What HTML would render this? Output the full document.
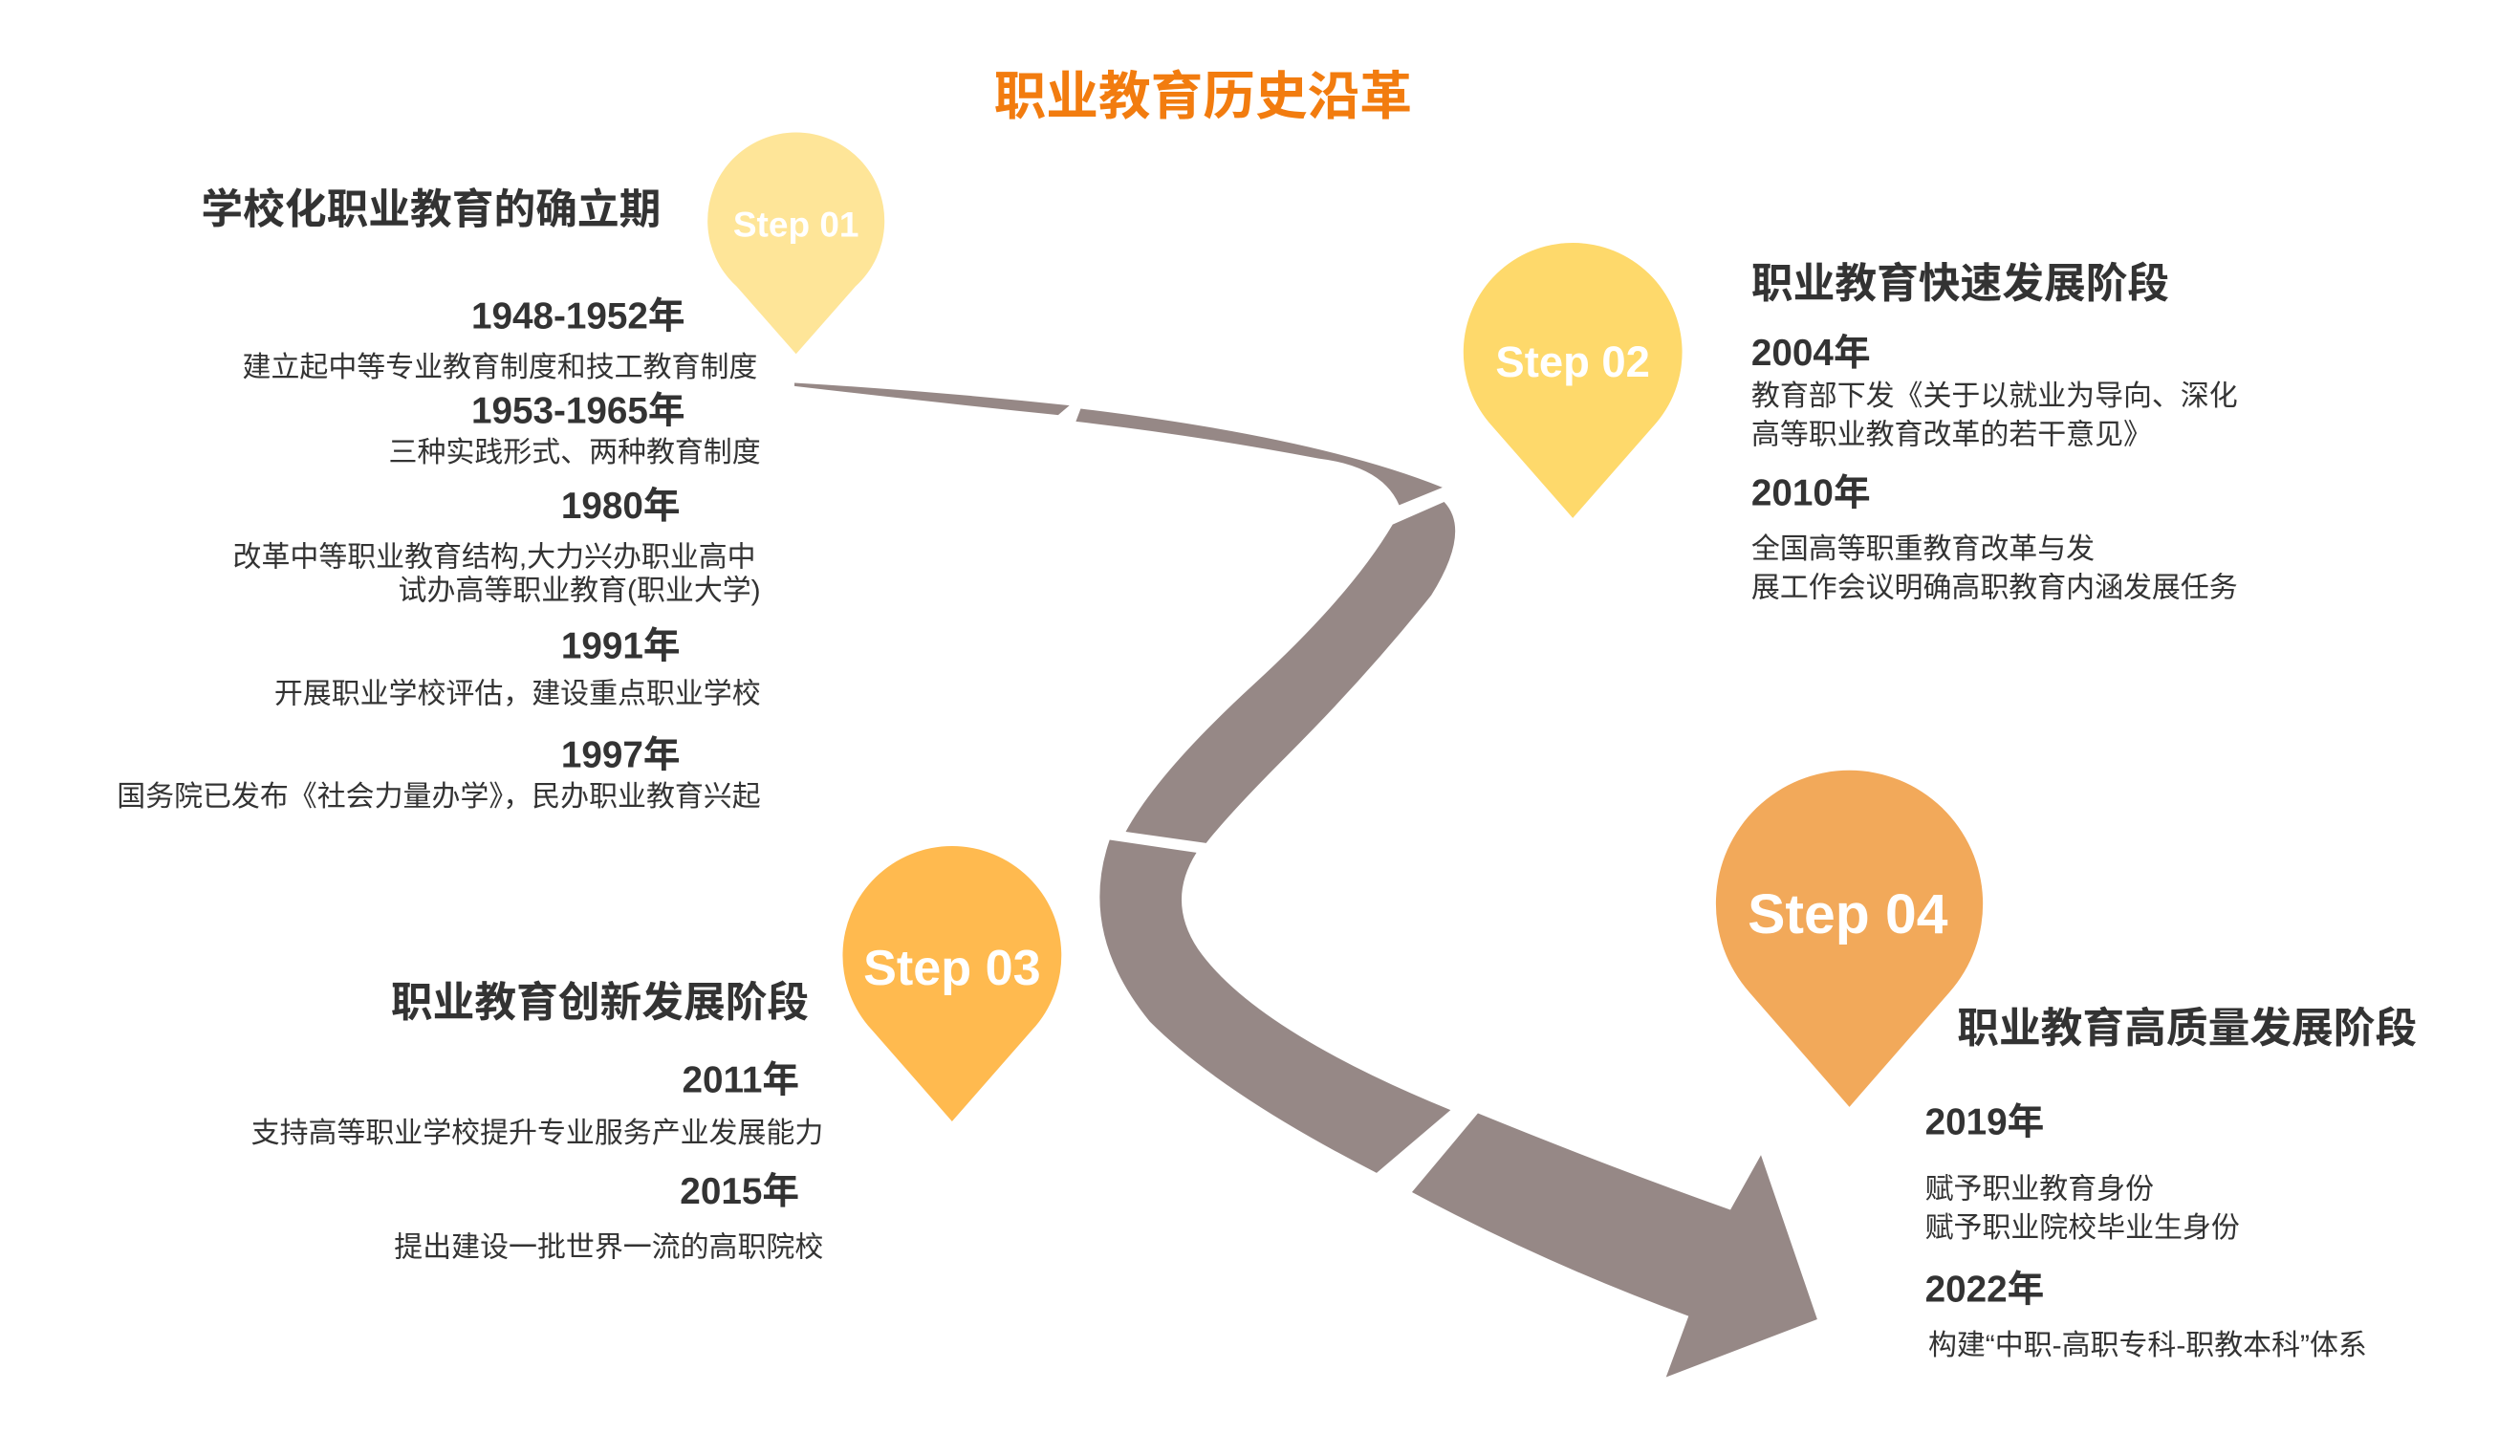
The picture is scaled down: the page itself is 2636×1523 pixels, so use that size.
<!DOCTYPE html>
<html><head><meta charset="utf-8"><style>
html,body{margin:0;padding:0;background:#fff}
svg{display:block}
text{font-family:"Liberation Sans","Noto Sans CJK SC",sans-serif}
.h{font-size:26px;font-weight:bold;fill:#333}
.y{font-size:23px;font-weight:bold;fill:#333}
.b{font-size:17.8px;fill:#333}
.s{font-weight:bold;fill:#fff}
</style></head><body>
<svg width="2636" height="1523" viewBox="0 0 1567 905" preserveAspectRatio="none" xmlns="http://www.w3.org/2000/svg">
<text x="748" y="71" text-anchor="middle" font-size="32.5" font-weight="bold" fill="#f27c0f">职业教育历史沿革</text>

<g fill="#968886">
<path d="M494,238 Q580,243 665,252 L658,258 Q580,250 494,240 Z"/>
<path d="M672,254 Q820,272 897,303 L870,314 Q860,290 820,285 Q740,270 669,262 Z"/>
<path d="M898,312 Q915,330 890,370 Q850,420 800,470 Q765,505 750,524 L700,517 Q720,480 780,425 Q840,370 866,326 Z"/>
<path d="M690,522 L744,530 Q725,560 745,590 Q780,640 902,690 L856,729 Q760,680 715,635 Q670,580 690,522 Z"/>
<path d="M919,692 Q1000,725 1076,752 L1095,718 L1130,820 L1036,856 L1050,818 Q960,785 878,741 Z"/>
</g>

<g>
<path d="M495,220 L458,178 A55,55 0 1,1 532,178 Z" fill="#fee598"/>
<text class="s" x="495" y="147" text-anchor="middle" font-size="22">Step 01</text>
</g>
<g>
<path d="M978,322 L928,265 A68,68 0 1,1 1028,265 Z" fill="#fed96b"/>
<text class="s" x="978" y="234" text-anchor="middle" font-size="27">Step 02</text>
</g>
<g>
<path d="M592,697 L542,640 A68,68 0 1,1 642,640 Z" fill="#ffba4f"/>
<text class="s" x="592" y="612" text-anchor="middle" font-size="31">Step 03</text>
</g>
<g>
<path d="M1150,688 L1088,617 A83,83 0 1,1 1212,617 Z" fill="#f2a95a"/>
<text class="s" x="1149" y="580" text-anchor="middle" font-size="35">Step 04</text>
</g>

<g text-anchor="end">
<text class="h" x="411" y="139">学校化职业教育的确立期</text>
<text class="y" x="426" y="204">1948-1952年</text>
<text class="b" x="471" y="234">建立起中等专业教育制度和技工教育制度</text>
<text class="y" x="426" y="263">1953-1965年</text>
<text class="b" x="473" y="287">三种实践形式、两种教育制度</text>
<text class="y" x="423" y="322">1980年</text>
<text class="b" x="470" y="352">改革中等职业教育结构,大力兴办职业高中</text>
<text class="b" x="473" y="373">试办高等职业教育(职业大学)</text>
<text class="y" x="423" y="409">1991年</text>
<text class="b" x="473" y="437">开展职业学校评估，建设重点职业学校</text>
<text class="y" x="423" y="477">1997年</text>
<text class="b" x="473" y="501">国务院已发布《社会力量办学》，民办职业教育兴起</text>
</g>

<g>
<text class="h" x="1089" y="185">职业教育快速发展阶段</text>
<text class="y" x="1089" y="227">2004年</text>
<text class="b" x="1089" y="252">教育部下发《关于以就业为导向、深化</text>
<text class="b" x="1089" y="276">高等职业教育改革的若干意见》</text>
<text class="y" x="1089" y="314">2010年</text>
<text class="b" x="1089" y="347">全国高等职重教育改革与发</text>
<text class="b" x="1089" y="371">展工作会议明确高职教育内涵发展任务</text>
</g>

<g text-anchor="end">
<text class="h" x="503" y="632">职业教育创新发展阶段</text>
<text class="y" x="497" y="679">2011年</text>
<text class="b" x="512" y="710">支持高等职业学校提升专业服务产业发展能力</text>
<text class="y" x="497" y="748">2015年</text>
<text class="b" x="512" y="781">提出建设一批世界一流的高职院校</text>
</g>

<g>
<text class="h" x="1217" y="648">职业教育高质量发展阶段</text>
<text class="y" x="1197" y="705">2019年</text>
<text class="b" x="1197" y="745">赋予职业教育身份</text>
<text class="b" x="1197" y="769">赋予职业院校毕业生身份</text>
<text class="y" x="1197" y="809">2022年</text>
<text class="b" x="1199" y="842">构建“中职-高职专科-职教本科”体系</text>
</g>
</svg>
</body></html>
